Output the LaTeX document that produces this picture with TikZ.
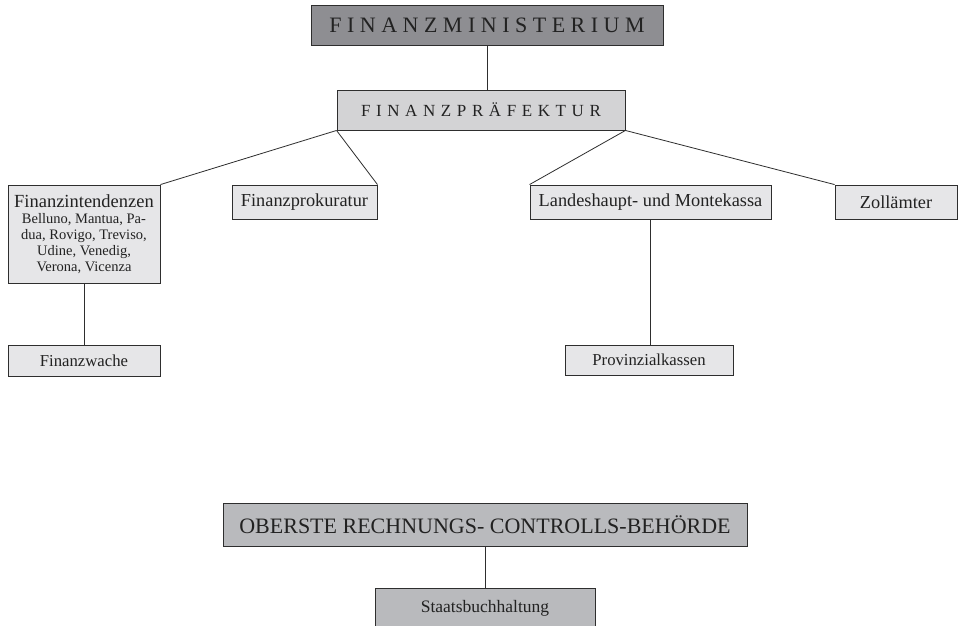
\documentclass[tikz,border=0pt]{standalone}
\usepackage{fontspec}
\setmainfont{Liberation Serif}
\makeatletter
\newcommand\spacedtext[2]{\def\mysep@{}\@tfor\mych:=#2\do{\mysep@\mych\def\mysep@{\hspace{#1}}}}
\makeatother
\definecolor{cmin}{HTML}{8E8E92}
\definecolor{cpre}{HTML}{D3D3D5}
\definecolor{cobe}{HTML}{B9BABD}
\definecolor{csma}{HTML}{E6E6E8}
\definecolor{cline}{HTML}{2E2E2E}
\definecolor{ctext}{HTML}{222222}
\begin{document}
\begin{tikzpicture}[x=1pt,y=-1pt,
  box/.style={draw=cline, line width=0.9pt, inner sep=0pt, align=center, text=ctext},
  conn/.style={draw=cline, line width=0.8pt},
  bigf/.style={font=\fontsize{22}{26}\selectfont},
  midf/.style={font=\fontsize{18.3}{22}\selectfont},
  smf/.style={font=\fontsize{16.7}{20}\selectfont}]
\useasboundingbox (0,0) rectangle (958,625);
\fill[white] (0,0) rectangle (958,625);

\node[box, fill=cmin, minimum width=352pt, minimum height=40pt, bigf] (mini) at (487,25)
  {\spacedtext{5.5pt}{FINANZMINISTERIUM}};
\node[box, fill=cpre, minimum width=288pt, minimum height=40pt, font=\fontsize{17}{20}\selectfont] (praef) at (481,110)
  {\spacedtext{5.6pt}{FINANZPRÄFEKTUR}};

\node[box, fill=csma, minimum width=152pt, minimum height=98pt, font=\fontsize{14.5}{16}\selectfont] (intend) at (84,234)
  {{\fontsize{18.5}{20}\selectfont Finanzintendenzen}\\[0pt]
   Belluno, Mantua, Pa-\\
   dua, Rovigo, Treviso,\\ Udine, Venedig,\\ Verona, Vicenza};
\node[box, fill=csma, minimum width=145pt, minimum height=34pt, midf] (prok) at (304.5,202) {Finanzprokuratur};
\node[box, fill=csma, minimum width=241pt, minimum height=34pt, midf] (landes) at (650.5,202) {Landeshaupt- und Montekassa};
\node[box, fill=csma, minimum width=122pt, minimum height=34pt, midf] (zoll) at (896,202) {Zollämter};

\node[box, fill=csma, minimum width=152pt, minimum height=31pt, smf] (wache) at (84,360.5) {Finanzwache};
\node[box, fill=csma, minimum width=168pt, minimum height=30pt, smf] (prov) at (649,360) {Provinzialkassen};

\node[box, fill=cobe, minimum width=524pt, minimum height=43pt, bigf] (ober) at (485,524.5) {OBERSTE RECHNUNGS- CONTROLLS-BEHÖRDE};
\node[box, fill=cobe, minimum width=220pt, minimum height=40pt, font=\fontsize{17.5}{20}\selectfont] (staats) at (485,608) {Staatsbuchhaltung};

\draw[conn] (mini.south) -- (mini.south |- praef.north);
\draw[conn] (praef.south west) -- (intend.north east);
\draw[conn] (praef.south west) -- (prok.north east);
\draw[conn] (praef.south east) -- (landes.north west);
\draw[conn] (praef.south east) -- (zoll.north west);
\draw[conn] (intend.south) -- (wache.north);
\draw[conn] (landes.south) -- (landes.south |- prov.north);
\draw[conn] (ober.south) -- (staats.north);
\end{tikzpicture}
\end{document}
